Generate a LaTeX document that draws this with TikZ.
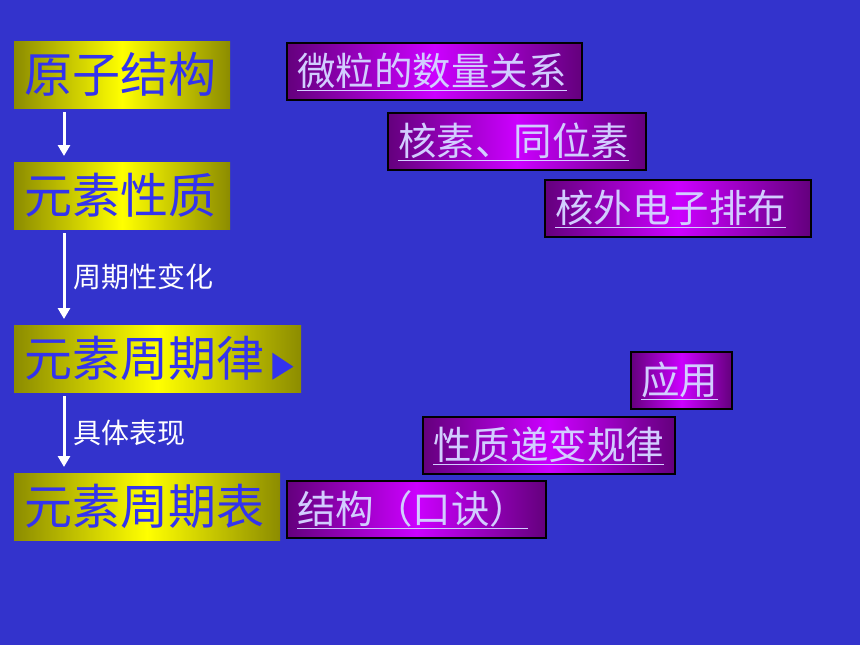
\documentclass[tikz,border=0pt]{standalone}
\usepackage{fontspec}
\usepackage{xcolor}
\newfontfamily\cjk{Noto Sans CJK SC}
\usetikzlibrary{arrows.meta,calc}
\definecolor{bgblue}{RGB}{51,51,204}
\definecolor{brightgold}{RGB}{255,255,0}
\definecolor{darkgold}{RGB}{140,140,0}
\definecolor{txtblue}{RGB}{51,51,238}
\definecolor{brightviolet}{RGB}{204,0,255}
\definecolor{darkviolet}{RGB}{100,0,125}
\definecolor{lilac}{RGB}{210,205,255}

\begin{document}
\begin{tikzpicture}[x=1pt,y=-1pt,every text node part/.style={align=left},
  goldbox/.style={anchor=north west,inner xsep=10pt,inner ysep=0pt,minimum height=67pt,
    left color=darkgold,right color=darkgold,middle color=brightgold,
    text=txtblue,font=\cjk\fontsize{48}{50}\selectfont},
  violetbox/.style={anchor=north west,inner xsep=10pt,inner ysep=0pt,minimum height=57pt,
    draw=black,line width=2pt,left color=darkviolet,right color=darkviolet,middle color=brightviolet,
    text=lilac,font=\cjk\fontsize{38.5}{40}\selectfont},
  arr/.style={draw=white,line width=3pt,-{Triangle[width=12pt,length=11pt]},shorten <=4pt,shorten >=6pt},
  lbl/.style={anchor=west,inner sep=0pt,text=white,font=\cjk\fontsize{28}{30}\selectfont}]
\fill[bgblue] (0,0) rectangle (860,645);
% left column
\node[goldbox,text width=196pt] (atom) at (14,41) {原子结构};
\node[goldbox,text width=196pt] (prop) at (14,162) {元素性质};
\node[goldbox,text width=267pt] (law) at (14,325) {元素周期律};
\node[goldbox,text width=246pt] (table) at (14,473) {元素周期表};
\fill[txtblue] ($(law.east)+(-29,-6)$) -- ++(0,27) -- ++(21,-13) -- cycle;
\draw[arr] ([xshift=50pt]atom.south west) -- ([xshift=50pt]prop.north west);
\draw[arr] ([xshift=50pt]prop.south west) -- ([xshift=50pt]law.north west);
\draw[arr] ([xshift=50pt]law.south west) -- ([xshift=50pt]table.north west);
\node[lbl] (periodic) at ($($(prop.south west)!0.5!(law.north west)$)+(59,0)$) {周期性变化};
\node[lbl] (shows) at ($($(law.south west)!0.5!(table.north west)$)+(59,0)$) {具体表现};
% right column
\node[violetbox,text width=275pt] (numrel) at (286,42) {\underline{微粒的数量关系}};
\node[violetbox,text width=238pt] (nuclide) at (387,112) {\underline{核素、同位素}};
\node[violetbox,text width=246pt] (electron) at (544,179) {\underline{核外电子排布}};
\node[violetbox,text width=81pt] (apply) at (630,351) {\underline{应用}};
\node[violetbox,text width=232pt] (trend) at (422,416) {\underline{性质递变规律}};
\node[violetbox,text width=239pt] (struct) at (286,480) {\underline{结构（口诀）}};
\end{tikzpicture}
\end{document}
